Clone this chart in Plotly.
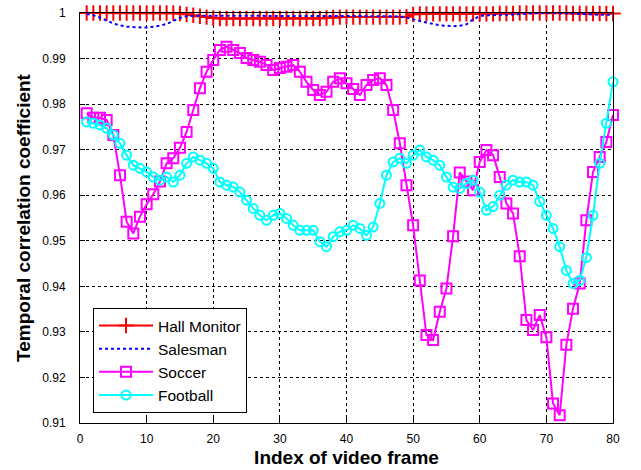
import plotly.graph_objects as go

frames = list(range(1, 81))

hall_monitor = [1.0000, 1.0000, 1.0000, 1.0000, 1.0000, 1.0000, 1.0000, 1.0000, 1.0000, 1.0000,
                1.0000, 1.0000, 1.0000, 1.0000, 0.9999, 0.9997, 0.9995, 0.9993, 0.9991, 0.9989,
                0.9988, 0.9988, 0.9988, 0.9988, 0.9988, 0.9988, 0.9988, 0.9988, 0.9988, 0.9988,
                0.9988, 0.9988, 0.9988, 0.9988, 0.9988, 0.9988, 0.9989, 0.9990, 0.9991, 0.9991,
                0.9991, 0.9991, 0.9991, 0.9991, 0.9991, 0.9991, 0.9991, 0.9991, 0.9992, 0.9997,
                0.9998, 0.9998, 0.9998, 0.9998, 0.9998, 0.9998, 0.9998, 0.9998, 0.9998, 0.9998,
                0.9998, 0.9998, 0.9999, 0.9999, 0.9999, 1.0000, 1.0000, 1.0000, 1.0000, 1.0000,
                1.0000, 1.0000, 1.0000, 0.9999, 0.9999, 0.9999, 0.9999, 0.9999, 0.9999, 0.9999]

salesman = [0.9998, 0.9995, 0.9990, 0.9983, 0.9977, 0.9973, 0.9970, 0.9969, 0.9968, 0.9968,
            0.9970, 0.9972, 0.9976, 0.9983, 0.9989, 0.9993, 0.9994, 0.9994, 0.9994, 0.9994,
            0.9994, 0.9994, 0.9994, 0.9993, 0.9993, 0.9993, 0.9993, 0.9993, 0.9993, 0.9993,
            0.9993, 0.9993, 0.9993, 0.9993, 0.9993, 0.9993, 0.9993, 0.9993, 0.9993, 0.9993,
            0.9993, 0.9993, 0.9993, 0.9993, 0.9993, 0.9993, 0.9993, 0.9992, 0.9990, 0.9986,
            0.9982, 0.9979, 0.9976, 0.9973, 0.9972, 0.9971, 0.9972, 0.9975, 0.9986, 0.9993,
            0.9995, 0.9996, 0.9996, 0.9996, 0.9997, 0.9998, 0.9999, 1.0000, 1.0000, 1.0000,
            1.0000, 1.0000, 1.0000, 0.9999, 0.9998, 0.9997, 0.9996, 0.9996, 0.9996, 0.9996]

soccer = [0.9780, 0.9770, 0.9770, 0.9765, 0.9732, 0.9644, 0.9542, 0.9516, 0.9553, 0.9580,
          0.9602, 0.9630, 0.9670, 0.9681, 0.9704, 0.9739, 0.9787, 0.9835, 0.9871, 0.9897,
          0.9919, 0.9926, 0.9919, 0.9912, 0.9901, 0.9897, 0.9893, 0.9886, 0.9875, 0.9879,
          0.9882, 0.9886, 0.9871, 0.9849, 0.9831, 0.9820, 0.9827, 0.9849, 0.9857, 0.9846,
          0.9833, 0.9820, 0.9842, 0.9853, 0.9857, 0.9842, 0.9787, 0.9714, 0.9622, 0.9534,
          0.9413, 0.9293, 0.9282, 0.9344, 0.9395, 0.9510, 0.9650, 0.9630, 0.9611, 0.9673,
          0.9699, 0.9688, 0.9640, 0.9582, 0.9560, 0.9466, 0.9326, 0.9304, 0.9337, 0.9288,
          0.9143, 0.9117, 0.9272, 0.9351, 0.9406, 0.9545, 0.9651, 0.9684, 0.9717, 0.9776]

football = [0.9761, 0.9758, 0.9754, 0.9747, 0.9732, 0.9714, 0.9688, 0.9666, 0.9659, 0.9651,
            0.9640, 0.9633, 0.9640, 0.9629, 0.9644, 0.9670, 0.9684, 0.9677, 0.9670, 0.9659,
            0.9629, 0.9622, 0.9618, 0.9607, 0.9589, 0.9571, 0.9556, 0.9545, 0.9556, 0.9560,
            0.9549, 0.9534, 0.9523, 0.9523, 0.9523, 0.9498, 0.9487, 0.9509, 0.9520, 0.9523,
            0.9534, 0.9527, 0.9512, 0.9530, 0.9582, 0.9644, 0.9673, 0.9681, 0.9670, 0.9688,
            0.9699, 0.9684, 0.9677, 0.9666, 0.9640, 0.9618, 0.9615, 0.9626, 0.9633, 0.9607,
            0.9567, 0.9575, 0.9600, 0.9622, 0.9633, 0.9629, 0.9629, 0.9622, 0.9586, 0.9556,
            0.9527, 0.9487, 0.9435, 0.9406, 0.9413, 0.9463, 0.9556, 0.9670, 0.9758, 0.9849]

series_names = ["Hall Monitor", "Salesman", "Soccer", "Football"]

x_ticks = [0, 10, 20, 30, 40, 50, 60, 70, 80]
y_ticks = [0.91, 0.92, 0.93, 0.94, 0.95, 0.96, 0.97, 0.98, 0.99, 1.0]
y_tick_labels = ["0.91", "0.92", "0.93", "0.94", "0.95", "0.96", "0.97", "0.98", "0.99", "1"]

FONT = "Liberation Sans, Arial, sans-serif"

fig = go.Figure()

fig.add_trace(go.Scatter(
    x=frames, y=hall_monitor, name=series_names[0], mode="lines+markers",
    line=dict(color="#FF0000", width=2),
    marker=dict(symbol="cross-thin-open", size=11, color="#FF0000",
                line=dict(color="#FF0000", width=2)),
    cliponaxis=False,
))
fig.add_trace(go.Scatter(
    x=frames, y=salesman, name=series_names[1], mode="lines",
    line=dict(color="#0000FF", width=2, dash="dot"),
    cliponaxis=False,
))
fig.add_trace(go.Scatter(
    x=frames, y=soccer, name=series_names[2], mode="lines+markers",
    line=dict(color="#FF00FF", width=2),
    marker=dict(symbol="square-open", size=10, color="#FF00FF",
                line=dict(color="#FF00FF", width=2)),
    cliponaxis=False,
))
fig.add_trace(go.Scatter(
    x=frames, y=football, name=series_names[3], mode="lines+markers",
    line=dict(color="#00FFFF", width=2),
    marker=dict(symbol="circle-open", size=9, color="#00FFFF",
                line=dict(color="#00FFFF", width=2)),
    cliponaxis=False,
))

axis_common = dict(
    showline=True, linecolor="black", linewidth=1, mirror=True,
    ticks="inside", ticklen=5, tickcolor="black",
    showgrid=True, gridcolor="black", gridwidth=1, griddash="3px,3px",
    zeroline=False, automargin=False,
    tickfont=dict(family=FONT, size=12, color="black"),
)

fig.update_layout(
    width=641, height=470,
    margin=dict(l=80, r=28, t=13, b=47),
    paper_bgcolor="white", plot_bgcolor="white",
    font=dict(family=FONT, color="black"),
    xaxis=dict(
        range=[0, 80], tickvals=x_ticks, ticklabelstandoff=5,
        title=dict(text="<b>Index of video frame</b>", font=dict(family=FONT, size=19), standoff=5),
        **axis_common,
    ),
    yaxis=dict(
        range=[0.91, 1.0], tickvals=y_ticks, ticktext=y_tick_labels, ticklabelstandoff=11,
        title=dict(text="<b>Temporal correlation coefficient</b>", font=dict(family=FONT, size=19), standoff=6),
        **axis_common,
    ),
    legend=dict(
        x=0.0244, y=0.0244, xanchor="left", yanchor="bottom",
        bgcolor="white", bordercolor="black", borderwidth=1,
        font=dict(family=FONT, size=15.5, color="black"),
        itemwidth=54, tracegroupgap=0,
    ),
    showlegend=True,
)

fig.write_html(
    "out.html",
    config={"displayModeBar": False},
    post_script="document.body.style.margin='0px';document.body.style.overflow='hidden';",
)
